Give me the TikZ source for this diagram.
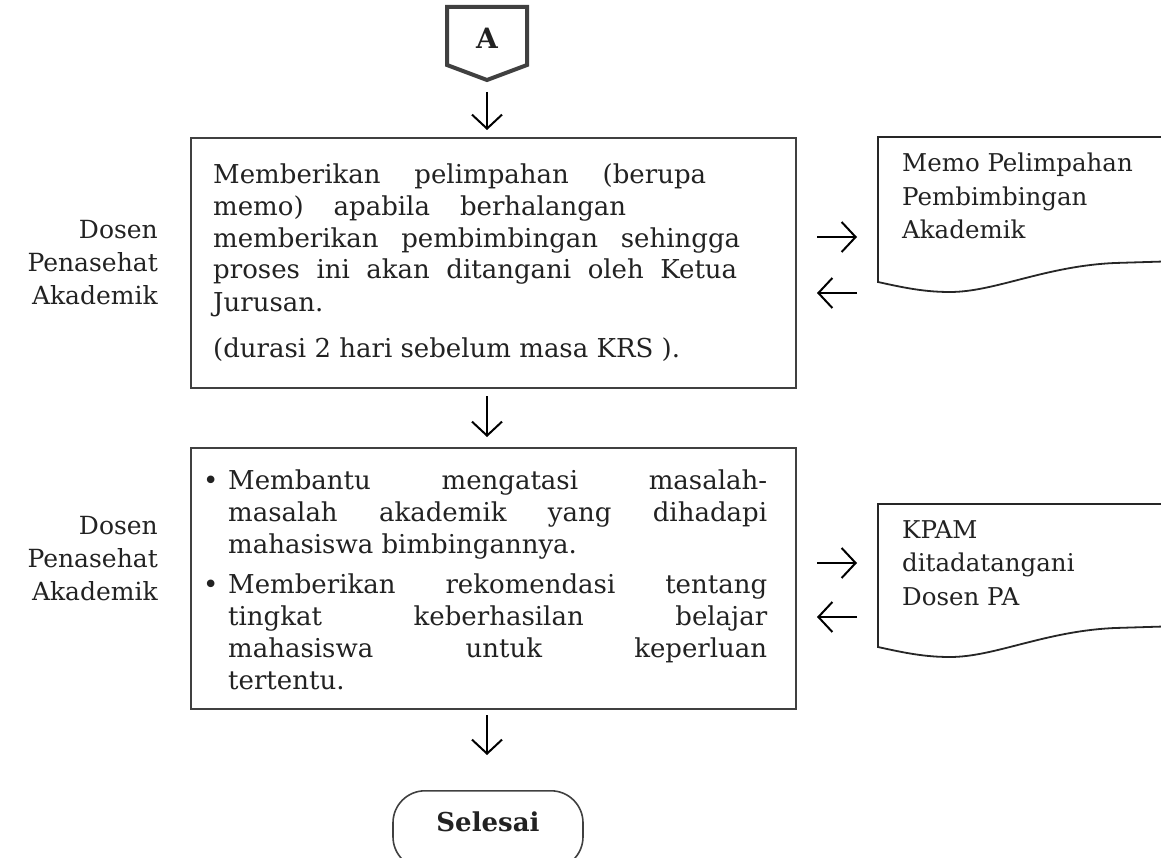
\documentclass[tikz,border=0pt]{standalone}
\usepackage{fontspec}
\setmainfont{DejaVu Serif}
\usetikzlibrary{arrows.meta}
\definecolor{boxgray}{HTML}{404040}
\definecolor{txt}{HTML}{222222}
\newcommand\jline[1]{\makebox[539pt][s]{#1}}
\newcommand\bul{\makebox[25pt][l]{\textbullet}}
\begin{document}
\begin{tikzpicture}[x=1pt,y=-1pt,
  flowbox/.style={draw=boxgray, line width=2pt, inner sep=0pt},
  flowarrow/.style={line width=2pt, -{Straight Barb[length=14pt,width=30pt]}},
  docshape/.style={draw=black!85, line width=1.8pt},
  body/.style={font=\fontsize{26}{32}\selectfont, text=txt, inner sep=0pt},
  lbl/.style={font=\fontsize{25}{33}\selectfont, text=txt, inner sep=0pt, align=right},
  doctext/.style={font=\fontsize{24.5}{33.5}\selectfont, text=txt, inner sep=0pt, align=left},
  boldtext/.style={font=\fontsize{26}{30}\selectfont\bfseries, text=txt, inner sep=0pt}]
\useasboundingbox (0,0) rectangle (1161,858);

% connector A
\draw[boxgray, line width=4pt, line join=miter]
  (447,7) -- (527,7) -- (527,65) -- (487,80) -- (447,65) -- cycle;
\node[boldtext, font=\fontsize{28}{30}\selectfont\bfseries] (A) at (487,38) {A};

% arrow A -> box1
\coordinate (a1s) at (487,92);
\coordinate (a1e) at (487,130);
\draw[flowarrow] (a1s) -- (a1e);

% box 1
\node[flowbox, minimum width=605pt, minimum height=250pt, anchor=north west] (box1) at (190,137) {};
\node[body, align=left, anchor=base west] (t1) at (213,357) {%
\makebox[493pt][s]{Memberikan pelimpahan (berupa}\\
\makebox[413pt][s]{memo) apabila berhalangan}\\
\makebox[527pt][s]{memberikan pembimbingan sehingga}\\
\makebox[524pt][s]{proses ini akan ditangani oleh Ketua}\\
Jurusan.\\[14pt]
(durasi 2 hari sebelum masa KRS ).};

\node[lbl, anchor=base east] (l1) at (158,305) {Dosen\\Penasehat\\Akademik};

% arrow box1 -> box2
\coordinate (a2s) at (487,396);
\coordinate (a2e) at (487,437);
\draw[flowarrow] (a2s) -- (a2e);

% box 2
\node[flowbox, minimum width=605pt, minimum height=261pt, anchor=north west] (box2) at (190,447) {};
\node[body, align=left, anchor=base west] (t2) at (203,689) {%
\bul\jline{Membantu mengatasi masalah-}\\
\hspace*{25pt}\jline{masalah akademik yang dihadapi}\\
\hspace*{25pt}mahasiswa bimbingannya.\\[8pt]
\bul\jline{Memberikan rekomendasi tentang}\\
\hspace*{25pt}\jline{tingkat keberhasilan belajar}\\
\hspace*{25pt}\jline{mahasiswa untuk keperluan}\\
\hspace*{25pt}tertentu.};

\node[lbl, anchor=base east] (l2) at (158,600) {Dosen\\Penasehat\\Akademik};

% arrow box2 -> end
\coordinate (a3s) at (487,715);
\coordinate (a3e) at (487,755);
\draw[flowarrow] (a3s) -- (a3e);

% end terminal
\node[draw=boxgray, line width=1.6pt, rounded corners=32pt, minimum width=190pt,
      minimum height=78pt, anchor=north] (end) at (488,790) {};
\node[boldtext] (endtext) at (488,822) {Selesai};

% document 1
\draw[docshape] (1180,137) -- (878,137) -- (878,282)
  .. controls (905,288) and (925,292) .. (950,292)
  .. controls (995,292) and (1045,266) .. (1115,263) -- (1180,261);
\node[doctext, anchor=base west] (d1) at (902,239) {Memo Pelimpahan\\Pembimbingan\\Akademik};
\coordinate (r1s) at (817,237);
\coordinate (r1e) at (857,237);
\draw[flowarrow] (r1s) -- (r1e);
\coordinate (r2s) at (857,293);
\coordinate (r2e) at (817,293);
\draw[flowarrow] (r2s) -- (r2e);

% document 2
\draw[docshape] (1180,504) -- (878,504) -- (878,647)
  .. controls (905,653) and (925,657) .. (950,657)
  .. controls (995,657) and (1045,631) .. (1115,628) -- (1180,626);
\node[doctext, anchor=base west] (d2) at (902,605) {KPAM\\ditadatangani\\Dosen PA};
\coordinate (r3s) at (817,563);
\coordinate (r3e) at (857,563);
\draw[flowarrow] (r3s) -- (r3e);
\coordinate (r4s) at (857,617);
\coordinate (r4e) at (817,617);
\draw[flowarrow] (r4s) -- (r4e);
\end{tikzpicture}
\end{document}
